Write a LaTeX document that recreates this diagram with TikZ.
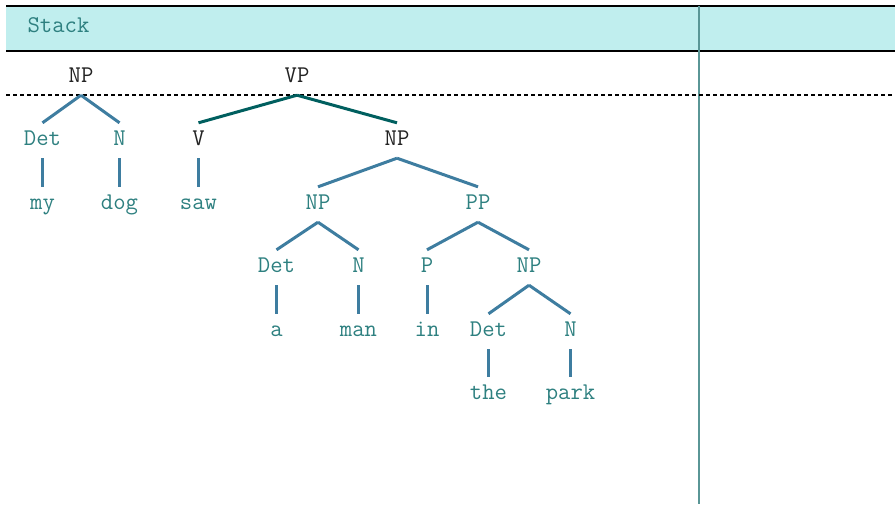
\documentclass[tikz,border=0pt]{standalone}
\usepackage{fontspec}
\usepackage{tikz}

\definecolor{bandcyan}{RGB}{192,238,238}
\definecolor{wordteal}{RGB}{46,128,128}
\definecolor{branchblue}{RGB}{62,125,160}
\definecolor{stackteal}{RGB}{0,95,95}
\definecolor{ruleteal}{RGB}{90,150,150}
\definecolor{stackgray}{RGB}{35,35,35}

\begin{document}
\begin{tikzpicture}[x=1pt,y=-1pt,
  cat/.style={font=\ttfamily\fontsize{24}{26}\selectfont, inner sep=0pt,
    anchor=base, yshift=-7pt, text height=22pt, text depth=13pt, text=wordteal},
  onstack/.style={cat, text=stackgray},
  branch/.style={draw=branchblue, line width=3pt},
  stackbranch/.style={branch, draw=stackteal}]
\useasboundingbox (0,0) rectangle (895,504);

\fill[bandcyan] (6,6) rectangle (895,51);
\draw[line width=2pt] (6,6) -- (895,6);
\draw[line width=2pt] (6,51) -- (895,51);
\draw[ruleteal, line width=2pt] (699,6) -- (699,504);
\draw[dash pattern=on 3.5pt off 3.5pt, line width=1.5pt] (6,95) -- (895,95);

\node[cat] (stack) at (58.5,25) {Stack};

\node[onstack] (stNP) at (81,75)  {NP};
\node[onstack] (stVP) at (297,75) {VP};
\node[cat] (det1) at (42.5,138)  {Det};
\node[cat] (n1)   at (119.5,138) {N};
\node[cat] (my)   at (42.5,202)  {my};
\node[cat] (dog)  at (119.5,202) {dog};
\node[onstack] (v)   at (198.5,138) {V};
\node[onstack] (np1) at (397,138) {NP};
\node[cat] (saw)  at (198.5,202) {saw};
\node[cat] (np2)  at (318,202) {NP};
\node[cat] (pp)   at (478,202) {PP};
\node[cat] (det2) at (276.5,265) {Det};
\node[cat] (n2)   at (358.5,265) {N};
\node[cat] (p)    at (427,265) {P};
\node[cat] (np3)  at (529,265) {NP};
\node[cat] (a)    at (276.5,329) {a};
\node[cat] (man)  at (358.5,329) {man};
\node[cat] (in)   at (427,329) {in};
\node[cat] (det3) at (488.5,329) {Det};
\node[cat] (n3)   at (570.5,329) {N};
\node[cat] (the)  at (488.5,392) {the};
\node[cat] (park) at (570.5,392) {park};

\path [stackbranch]
(stVP.south) edge (v.north)
             edge (np1.north);
\path [branch]
(stNP.south) edge (det1.north)
             edge (n1.north)
(det1.south) edge (my.north)
(n1.south)   edge (dog.north)
(v.south)    edge (saw.north)
(np1.south)  edge (np2.north)
             edge (pp.north)
(np2.south)  edge (det2.north)
             edge (n2.north)
(pp.south)   edge (p.north)
             edge (np3.north)
(det2.south) edge (a.north)
(n2.south)   edge (man.north)
(p.south)    edge (in.north)
(np3.south)  edge (det3.north)
             edge (n3.north)
(det3.south) edge (the.north)
(n3.south)   edge (park.north);
\end{tikzpicture}
\end{document}
